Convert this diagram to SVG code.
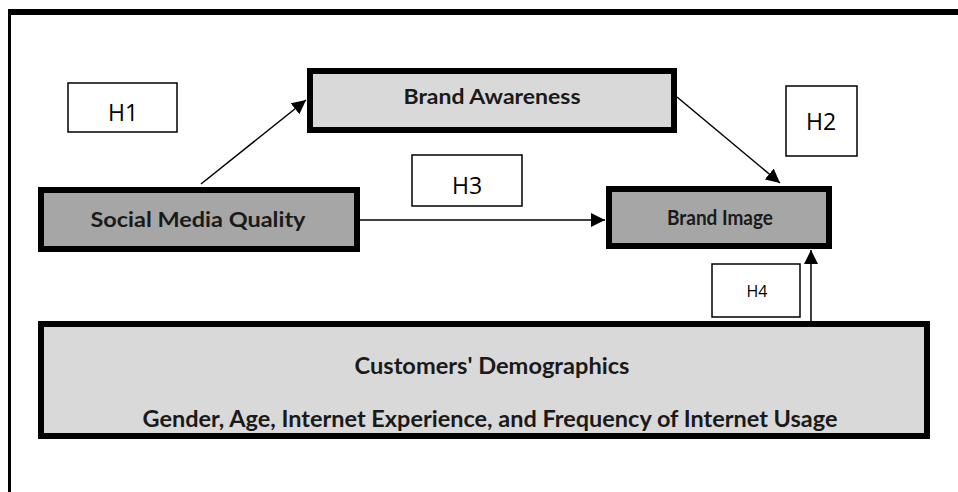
<svg xmlns="http://www.w3.org/2000/svg" width="958" height="492" viewBox="0 0 958 492">
<defs>
<style>
.n{stroke:#000;stroke-width:6}
.dk{fill:#a6a6a6}
.lt{fill:#d9d9d9}
.h{fill:#fff;stroke:#000;stroke-width:1.5}
.t{font-family:Lato,"Open Sans",sans-serif;font-weight:bold;font-size:20px;fill:#1a1a1a;text-anchor:middle}
.ht{font-family:"Open Sans","Noto Sans",sans-serif;font-size:23px;fill:#000;text-anchor:middle}
.c{stroke:#000;stroke-width:1.5;fill:none}
</style>
<marker id="ah" viewBox="0 0 10 10" refX="10" refY="5" markerWidth="14" markerHeight="14" markerUnits="userSpaceOnUse" orient="auto">
<path d="M0,0 L10,5 L0,10 z" fill="#000"/>
</marker>
</defs>
<rect width="958" height="492" fill="#fff"/>
<g id="frame">
<rect x="8" y="9" width="950" height="6" fill="#000"/>
<rect x="8" y="9" width="3" height="483" fill="#000"/>
</g>
<g id="connectors">
<line class="c" x1="201" y1="184" x2="306" y2="100" marker-end="url(#ah)"/>
<line class="c" x1="677" y1="97" x2="780" y2="183" marker-end="url(#ah)"/>
<line class="c" x1="360" y1="220" x2="605" y2="220" marker-end="url(#ah)"/>
<line class="c" x1="811" y1="321" x2="811" y2="250" marker-end="url(#ah)"/>
</g>
<g id="h1"><rect class="h" x="68" y="83" width="109" height="49"/><text class="ht" x="123" y="121">H1</text></g>
<g id="h2"><rect class="h" x="786" y="86" width="71" height="70"/><text class="ht" x="821" y="130">H2</text></g>
<g id="h3"><rect class="h" x="412" y="155" width="110" height="51"/><text class="ht" x="467" y="194">H3</text></g>
<g id="h4"><rect class="h" x="712" y="264" width="88" height="53"/><text class="ht" x="757" y="297" style="font-size:16px">H4</text></g>
<g id="brand-awareness"><rect class="n lt" x="310" y="71" width="364" height="59"/><text class="t" x="492" y="104" textLength="177" lengthAdjust="spacingAndGlyphs">Brand Awareness</text></g>
<g id="social-media-quality"><rect class="n dk" x="41" y="190" width="316" height="59"/><text class="t" x="198" y="227" textLength="215" lengthAdjust="spacingAndGlyphs" style="font-size:21px">Social Media Quality</text></g>
<g id="brand-image"><rect class="n dk" x="609" y="189" width="220" height="57"/><text class="t" x="720" y="225" textLength="106" lengthAdjust="spacingAndGlyphs">Brand Image</text></g>
<g id="demographics"><rect class="n lt" x="41" y="324" width="886" height="112"/>
<text class="t" x="492" y="374" textLength="275" lengthAdjust="spacingAndGlyphs" style="font-size:22px">Customers' Demographics</text>
<text class="t" x="490" y="427" textLength="695" lengthAdjust="spacingAndGlyphs" style="font-size:22px">Gender, Age, Internet Experience, and Frequency of Internet Usage</text></g>
</svg>
